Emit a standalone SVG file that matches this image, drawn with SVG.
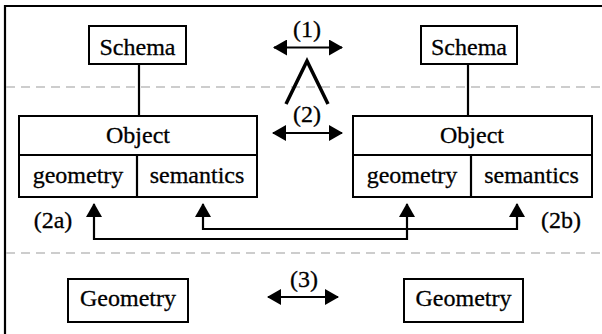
<svg xmlns="http://www.w3.org/2000/svg" width="602" height="334" viewBox="0 0 602 334">
  <style>
    .box { fill: #fff; stroke: #000; stroke-width: 2; }
    .lbl { font-family: "Liberation Serif", "Times New Roman", serif; font-size: 24px; fill: #000; stroke: #000; stroke-width: 0.3; text-anchor: middle; }
    .wire { fill: none; stroke: #000; stroke-width: 2.2; }
    .sep { fill: none; stroke: #bdbdbd; stroke-width: 1.6; stroke-dasharray: 9 6; }
  </style>
  <defs>
    <marker id="head" viewBox="0 0 14 16" refX="13" refY="8" markerWidth="14" markerHeight="16" markerUnits="userSpaceOnUse" orient="auto-start-reverse">
      <path d="M0,0 L14,8 L0,16 Z" fill="#000"/>
    </marker>
  </defs>

  <rect width="602" height="334" fill="#fff"/>

  <!-- frame -->
  <path d="M5,334 V6 H602" fill="none" stroke="#000" stroke-width="2.2"/>

  <!-- layer separators -->
  <path class="sep" d="M6,87 H602"/>
  <path class="sep" d="M6,253 H602"/>

  <!-- connectors -->
  <g id="connectors">
    <path class="wire" d="M139,64 V116"/>
    <path class="wire" d="M468,64 V116"/>
    <path class="wire" d="M274,47.5 H342" marker-start="url(#head)" marker-end="url(#head)"/>
    <path d="M286,104 L307,61 L328,104" fill="none" stroke="#000" stroke-width="3.5"/>
    <path class="wire" d="M273,133 H342" marker-start="url(#head)" marker-end="url(#head)"/>
    <path class="wire" d="M268,297 H338" marker-start="url(#head)" marker-end="url(#head)"/>
    <path class="wire" d="M94,204 V239 H407 V204" marker-start="url(#head)" marker-end="url(#head)"/>
    <path class="wire" d="M203,204 V229 H517 V204" marker-start="url(#head)" marker-end="url(#head)"/>
    <text class="lbl" x="307" y="37">(1)</text>
    <text class="lbl" x="307" y="122">(2)</text>
    <text class="lbl" x="304" y="287">(3)</text>
    <text class="lbl" x="53" y="228">(2a)</text>
    <text class="lbl" x="561" y="228">(2b)</text>
  </g>

  <g id="schema-left">
    <rect class="box" x="89" y="26" width="97" height="38"/>
    <text class="lbl" x="137.5" y="55">Schema</text>
  </g>
  <g id="schema-right">
    <rect class="box" x="421" y="26" width="96" height="38"/>
    <text class="lbl" x="469" y="55">Schema</text>
  </g>

  <g id="object-left">
    <rect class="box" x="19" y="116" width="238" height="81"/>
    <path class="wire" d="M19,155 H257 M137,155 V197"/>
    <text class="lbl" x="138" y="143">Object</text>
    <text class="lbl" x="78" y="183">geometry</text>
    <text class="lbl" x="197" y="183">semantics</text>
  </g>
  <g id="object-right">
    <rect class="box" x="353" y="116" width="239" height="81"/>
    <path class="wire" d="M353,155 H592 M471,155 V197"/>
    <text class="lbl" x="472" y="143">Object</text>
    <text class="lbl" x="412" y="183">geometry</text>
    <text class="lbl" x="531.5" y="183">semantics</text>
  </g>

  <g id="geometry-left">
    <rect class="box" x="68" y="279" width="120" height="43"/>
    <text class="lbl" x="128" y="306">Geometry</text>
  </g>
  <g id="geometry-right">
    <rect class="box" x="404" y="279" width="119" height="43"/>
    <text class="lbl" x="463.5" y="306">Geometry</text>
  </g>
</svg>
